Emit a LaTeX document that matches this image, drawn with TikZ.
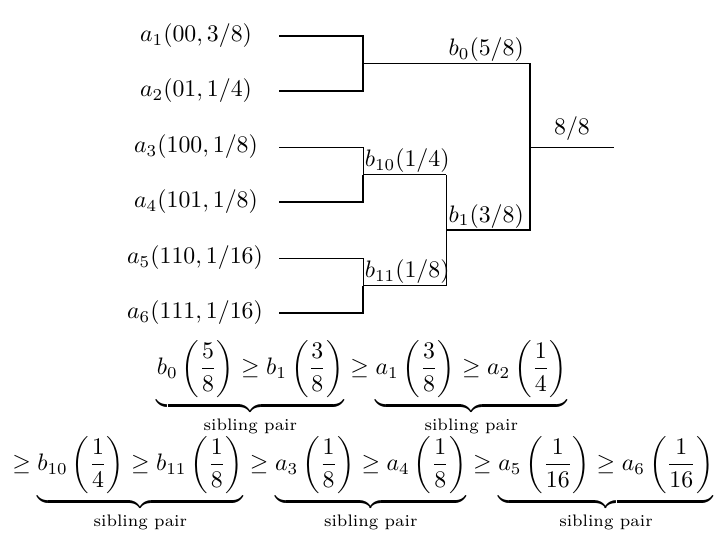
\documentclass[tikz,border=0pt]{standalone}
\usepackage{amsmath,amssymb}
\usepackage{tikz}
\usetikzlibrary{positioning,calc}

\tikzset{
  leaf/.style={inner sep=0pt},
  heavy/.style={line width=0.7pt},
  light/.style={line width=0.4pt},
  wlabel/.style={inner xsep=2.4pt, inner ysep=0.6pt}
}

\begin{document}
\begin{tikzpicture}[x=0.42pt, y=-0.42pt]
  \useasboundingbox (0,0) rectangle (727,542);

  % leaves
  \node[leaf] (a1) at (196,36)  {$a_1(00,3/8)$};
  \node[leaf] (a2) at (196,91)  {$a_2(01,1/4)$};
  \node[leaf] (a3) at (196,147) {$a_3(100,1/8)$};
  \node[leaf] (a4) at (196,202) {$a_4(101,1/8)$};
  \node[leaf] (a5) at (195,258) {$a_5(110,1/16)$};
  \node[leaf] (a6) at (195,313) {$a_6(111,1/16)$};

  % branch ends and joins
  \coordinate (s1) at (279,36);
  \coordinate (s2) at (279,91);
  \coordinate (s3) at (279,147);
  \coordinate (s4) at (279,202);
  \coordinate (s5) at (279,258);
  \coordinate (s6) at (279,313);
  \coordinate (n0)  at (363,63.5);
  \coordinate (n10) at (363,174.5);
  \coordinate (n11) at (363,285.5);
  \coordinate (p10) at (446,174.5);
  \coordinate (p11) at (446,285.5);
  \coordinate (k1)  at (446,230);
  \coordinate (m0)  at (530,63.5);
  \coordinate (m1)  at (530,230);
  \coordinate (r0)  at (530,147);
  \coordinate (r1)  at (614,147);

  % tree
  \draw[heavy] (s1) -| (n0) |- (s2);
  \draw[heavy] (n0) -| (m1) -- (k1);
  \draw[light] (s3) -| (n10);
  \draw[heavy] (n10) |- (s4);
  \draw[light] (s5) -| (n11);
  \draw[heavy] (n11) |- (s6);
  \draw[heavy] (n10) -- (p10);
  \draw[light] (n11) -- (p11);
  \draw[light] (p10) -- (p11);
  \draw[light] (r0) -- (r1);

  % weights
  \node[wlabel, anchor=south east] (lb0)  at (m0)  {$b_0(5/8)$};
  \node[wlabel, anchor=south east] (lb1)  at (m1)  {$b_1(3/8)$};
  \node[inner sep=0.6pt, anchor=south west] (lb10) at (n10) {$b_{10}(1/4)$};
  \node[inner sep=0.6pt, anchor=south west] (lb11) at (n11) {$b_{11}(1/8)$};
  \node[inner ysep=2.5pt, anchor=south] (lroot) at ($(r0)!0.5!(r1)$) {$8/8$};

  % ordering
  \node[inner sep=0pt] (ineq1) at (362,388) {$\displaystyle
    \underbrace{b_0\left(\frac{5}{8}\right) \geq b_1\left(\frac{3}{8}\right)}_{\text{sibling pair}}
    \geq
    \underbrace{a_1\left(\frac{3}{8}\right) \geq a_2\left(\frac{1}{4}\right)}_{\text{sibling pair}}$};
  \node[inner sep=0pt] (ineq2) at (363,484) {$\displaystyle
    \geq
    \underbrace{b_{10}\left(\frac{1}{4}\right) \geq b_{11}\left(\frac{1}{8}\right)}_{\text{sibling pair}}
    \geq
    \underbrace{a_3\left(\frac{1}{8}\right) \geq a_4\left(\frac{1}{8}\right)}_{\text{sibling pair}}
    \geq
    \underbrace{a_5\left(\frac{1}{16}\right) \geq a_6\left(\frac{1}{16}\right)}_{\text{sibling pair}}$};
\end{tikzpicture}
\end{document}
